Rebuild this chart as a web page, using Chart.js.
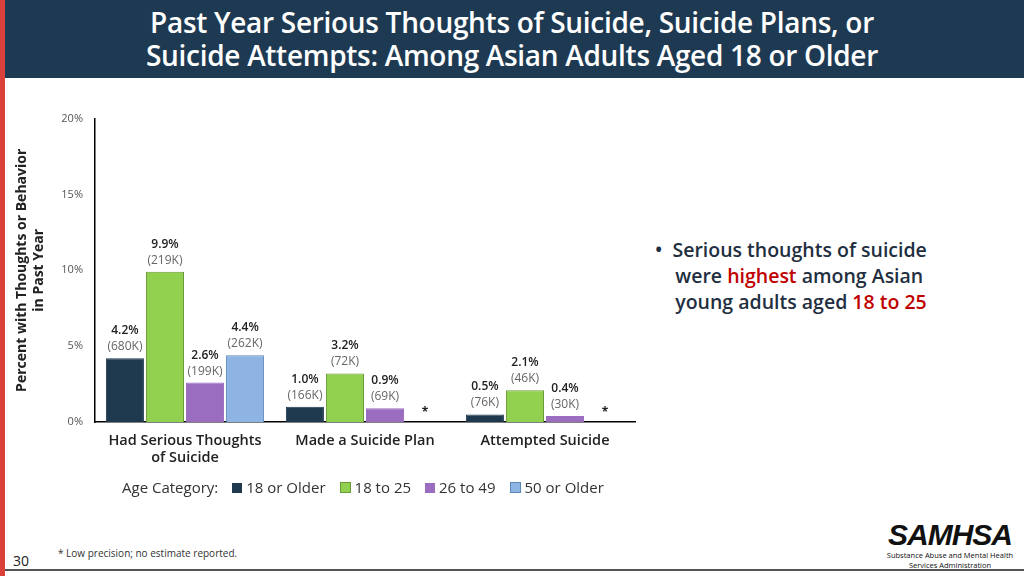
<!DOCTYPE html>
<html><head><meta charset="utf-8">
<script src="https://cdn.jsdelivr.net/npm/chart.js@4"></script>
<style>
body{margin:0;width:1024px;height:576px;position:relative;background:#fff;font-family:"Open Sans",sans-serif;overflow:hidden}
#hdr{position:absolute;left:0;top:0;width:1024px;height:78px;background:#1e3a52;color:#fff;text-align:center;font-weight:600;font-size:28px;line-height:33px;padding-top:6px;box-sizing:border-box;letter-spacing:-0.3px}
#red{position:absolute;left:0;top:0;width:5px;height:576px;background:#d9413a}
#cw{position:absolute;left:0;top:100px;width:640px;height:380px}
#leg{position:absolute;top:477px;left:122px;font-size:15px;color:#333;white-space:nowrap}
#leg span.sw{display:inline-block;width:10px;height:10px;margin:0 4px 0 14px;vertical-align:0px}
#bul{position:absolute;left:655px;top:237px;font-size:19.5px;font-weight:600;color:#1f2f3f;line-height:26px}
#bul .r{color:#c00000}
#foot{position:absolute;left:58px;top:546px;font-size:10px;color:#333}
#pg{position:absolute;left:13px;top:551px;font-size:14px;color:#222}
#line{position:absolute;left:5px;top:569px;width:1019px;height:2px;background:#555}
#logo{position:absolute;left:880px;top:520px;width:140px;text-align:center;color:#111}
</style></head><body>
<div id="hdr">Past Year Serious Thoughts of Suicide, Suicide Plans, or<br>Suicide Attempts: Among Asian Adults Aged 18 or Older</div>
<div id="red"></div>
<div id="cw"><canvas id="c"></canvas></div>
<div id="leg">Age Category:<span class="sw" style="background:#1f3a4f;margin-left:14px"></span>18 or Older<span class="sw" style="background:#92d050;border:1px solid #6a9a38;width:9px;height:9px"></span>18 to 25<span class="sw" style="background:#9b6dc1"></span>26 to 49<span class="sw" style="background:#8db4e2;border:1px solid #5a86b8;width:9px;height:9px"></span>50 or Older</div>
<div id="bul">•&nbsp;&nbsp;Serious thoughts of suicide<br>&nbsp;&nbsp;&nbsp;&nbsp;were <span class="r">highest</span> among Asian<br>&nbsp;&nbsp;&nbsp;&nbsp;young adults aged <span class="r">18 to 25</span></div>
<div id="foot">* Low precision; no estimate reported.</div>
<div id="pg">30</div>
<div id="line"></div>
<div id="logo"><div style="font-size:30px;font-weight:900;font-style:italic;letter-spacing:-1px;line-height:30px;font-family:'Liberation Sans',sans-serif">SAMHSA</div><div style="font-size:7.5px;line-height:10px">Substance Abuse and Mental Health<br>Services Administration</div></div>
<script>
const categories=[["Had Serious Thoughts","of Suicide"],"Made a Suicide Plan","Attempted Suicide"];
const seriesNames=["18 or Older","18 to 25","26 to 49","50 or Older"];
const s18plus=[4.2,1.0,0.5];
const s18to25=[9.9,3.2,2.1];
const s26to49=[2.6,0.9,0.4];
const s50plus=[4.4,null,null];
const counts18plus=["680K","166K","76K"];
const counts18to25=["219K","72K","46K"];
const counts26to49=["199K","69K","30K"];
const counts50plus=["262K",null,null];
const yTicks=[0,5,10,15,20];
const colors=["#1f3a4f","#92d050","#9b6dc1","#8db4e2"];
const borders=["#1f3a4f","#6a9a38","#9b6dc1","#5a86b8"];
const allVals=[s18plus,s18to25,s26to49,s50plus];
const allCounts=[counts18plus,counts18to25,counts26to49,counts50plus];
const labelPlugin={id:'lbl',afterDatasetsDraw(ch){
  const ctx=ch.ctx;ctx.save();ctx.textAlign='center';
  ch.data.datasets.forEach((ds,i)=>{
    const meta=ch.getDatasetMeta(i);
    meta.data.forEach((bar,j)=>{
      const v=ds.data[j];
      if(v==null){
        const x=ch.scales.x.getPixelForValue(j)+ (i-1.5)*40;
        ctx.fillStyle='#222';ctx.font='bold 12px "Open Sans"';ctx.fillText('*',x,316);
        return;}
      ctx.fillStyle='#222';ctx.font='600 12px "Open Sans"';
      ctx.fillText(v.toFixed(1)+'%',bar.x,bar.y-24);
      ctx.fillStyle='#666';ctx.font='12px "Open Sans"';
      ctx.fillText('('+allCounts[i][j]+')',bar.x,bar.y-8);
    });
  });ctx.restore();}};
new Chart(document.getElementById('c'),{type:'bar',
 data:{labels:categories,datasets:seriesNames.map((n,i)=>({label:n,data:allVals[i],backgroundColor:colors[i],borderColor:borders[i],borderWidth:{top:1,left:1,right:1,bottom:0},categoryPercentage:0.89,barPercentage:0.95}))},
 options:{responsive:true,maintainAspectRatio:false,animation:false,
  layout:{padding:{top:11,right:5}},
  plugins:{legend:{display:false},tooltip:{enabled:false}},
  scales:{
   y:{min:0,max:20,afterBuildTicks(s){s.ticks=yTicks.map(v=>({value:v}));},
      afterFit(s){s.width=95;},
      ticks:{callback:v=>v+'%',color:'#555',font:{size:11,family:'Open Sans'},padding:12},
      grid:{display:false,drawTicks:false},border:{color:'#000',width:1.5},
      title:{display:true,text:['Percent with Thoughts or Behavior','in Past Year'],color:'#222',font:{size:14,weight:'bold',family:'Open Sans'},padding:{top:14,bottom:4},align:'center'}},
   x:{afterFit(s){s.height=58;},grid:{display:false,drawTicks:false},border:{color:'#000',width:1.5},
      ticks:{color:'#222',font:{size:14.5,weight:'600',family:'Open Sans'},padding:10,maxRotation:0}}
  }},
 plugins:[labelPlugin]});
</script>
</body></html>
